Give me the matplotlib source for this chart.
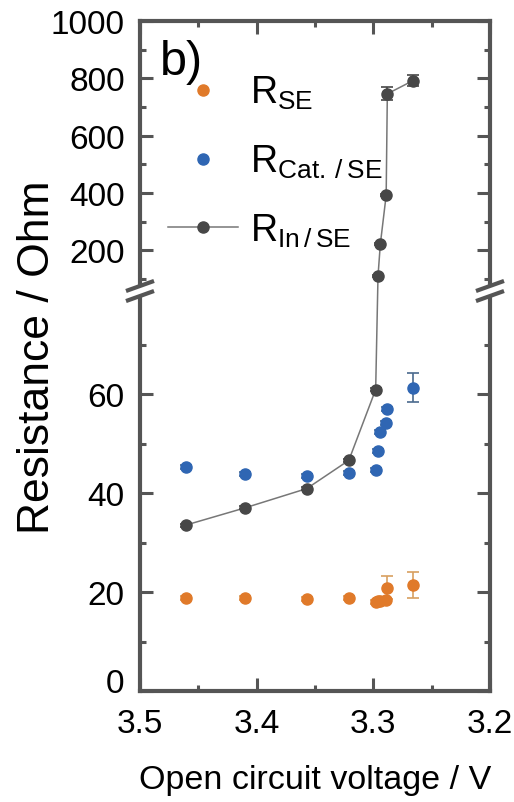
import numpy as np
import matplotlib
matplotlib.use('Agg')
import matplotlib.pyplot as plt
from matplotlib.lines import Line2D
from matplotlib.patches import Polygon
from matplotlib.transforms import ScaledTranslation

plt.rcParams['font.family'] = ['Liberation Sans', 'DejaVu Sans']
plt.rcParams['mathtext.fontset'] = 'custom'
plt.rcParams['mathtext.rm'] = 'Liberation Sans'

# data
voc = [3.461, 3.410, 3.357, 3.321, 3.298, 3.296, 3.294, 3.289, 3.288, 3.266]
r_se = [18.7, 18.7, 18.6, 18.7, 18.0, 18.1, 18.2, 18.3, 20.9, 21.4]
r_se_err = [0.4, 0.4, 0.4, 0.4, 0.4, 0.4, 0.4, 0.4, 2.4, 2.7]
r_cat = [45.3, 43.8, 43.5, 44.0, 44.6, 48.4, 52.3, 54.1, 57.0, 61.3]
r_cat_err = [0.4, 0.4, 0.4, 0.4, 0.4, 0.4, 0.4, 0.4, 0.4, 2.9]
r_in = [33.5, 37.0, 40.9, 46.6, 60.9, 110, 222, 392, 746, 792]
r_in_err = [0.3, 0.3, 0.3, 0.3, 0.3, 3, 3, 3, 23, 20]

labels = [r'R$_{\mathregular{SE}}$', r'R$_{\mathregular{Cat.\,/\,SE}}$',
          r'R$_{\mathregular{In\,/\,SE}}$']
x_major = [3.5, 3.4, 3.3, 3.2]
x_minor = [3.45, 3.35, 3.25]
y_major = [0, 20, 40, 60, 200, 400, 600, 800, 1000]
y_minor = [10, 30, 50, 70, 100, 300, 500, 700, 900]

c_se = '#E07A2A'
c_cat = '#2F66B3'
c_in = '#474747'
c_ax = '#555555'

# broken y axis: linear 0..~81 at the bottom, compressed 100..1000 on top
BRK = 80.8
PX_LO = 4.95
P_BRK = 400.0
P100 = 412.0
S_HI = 0.2867


def fwd(v):
    v = np.asarray(v, float)
    return np.where(v <= BRK, v * PX_LO, P100 + (v - 100) * S_HI)


def inv(p):
    p = np.asarray(p, float)
    hi = 100 + (p - P100) / S_HI
    return np.where(p <= P_BRK, p / PX_LO, np.maximum(hi, BRK))


fig = plt.figure(figsize=(5.14, 8.03), dpi=100)
ax = fig.add_axes([140/514, 1-692/803, 350/514, 670/803])
ax.set_yscale('function', functions=(fwd, inv))

ax.errorbar(voc, r_se, yerr=r_se_err, fmt='o', ms=8, color=c_se,
            ecolor='#D8A060', elinewidth=1.2, capsize=4.5, capthick=1.2, zorder=3)
ax.errorbar(voc, r_cat, yerr=r_cat_err, fmt='o', ms=8, color=c_cat,
            ecolor='#4A6A8E', elinewidth=1.2, capsize=4.5, capthick=1.2, zorder=3)
ax.plot(voc, r_in, '-', color='#777777', lw=1.1, zorder=3)
ax.errorbar(voc, r_in, yerr=r_in_err, fmt='o', ms=8, color=c_in,
            ecolor=c_in, elinewidth=1.2, capsize=4.5, capthick=1.2, zorder=4)

ax.set_xlim(3.5, 3.2)
ax.set_ylim(0, 1000)
ax.set_xticks(x_major)
ax.set_xticks(x_minor, minor=True)
ax.set_yticks(y_major)
ax.set_yticks(y_minor, minor=True)
ax.set_xticklabels(['3.5', '3.4', '3.3', '3.2'])
ax.set_yticklabels([str(v) for v in y_major])

for s in ax.spines.values():
    s.set_linewidth(3)
    s.set_color(c_ax)
ax.tick_params(which='both', direction='in', top=True, right=True,
               color=c_ax, width=2.2, labelsize=24)
ax.tick_params(which='major', length=9.5)
ax.tick_params(which='minor', length=4.5)
ax.tick_params(axis='x', pad=12)
ax.tick_params(axis='y', pad=11)
# the "0" sits a little above its tick in the original
lab0 = ax.yaxis.get_major_ticks()[0].label1
lab0.set_transform(lab0.get_transform() + ScaledTranslation(0, 8/72, fig.dpi_scale_trans))

ax.set_xlabel('Open circuit voltage / V', fontsize=24.5)
ax.xaxis.set_label_coords(0.5, -0.109)
ax.set_ylabel('Resistance / Ohm', fontsize=32)
ax.yaxis.set_label_coords(-0.235, 0.5)

ax.text(0.057, 0.921, 'b)', transform=ax.transAxes, fontsize=35, va='baseline')

# break marks on both spines
yb = 400 / 670.0
dx, dy, sep = 0.04, 0.0075, 0.0075
for xs in (0.0, 1.0):
    gap = Polygon([[xs - 0.012, yb - sep], [xs + 0.012, yb - sep],
                   [xs + 0.012, yb + sep], [xs - 0.012, yb + sep]],
                  closed=True, transform=ax.transAxes, facecolor='white',
                  edgecolor='none', clip_on=False, zorder=5)
    ax.add_patch(gap)
    for off in (-sep, sep):
        ax.plot([xs - dx, xs + dx], [yb + off - dy, yb + off + dy],
                transform=ax.transAxes, color=c_ax, lw=3, clip_on=False,
                solid_capstyle='butt', zorder=6)

handles = [
    Line2D([], [], ls='none', marker='o', ms=8, color=c_se),
    Line2D([], [], ls='none', marker='o', ms=8, color=c_cat),
    Line2D([], [], ls='-', lw=1.1, color='#777777', marker='o', ms=8,
           mfc=c_in, mec=c_in),
]
ax.legend(handles, labels, loc='upper left', bbox_to_anchor=(0.08, 0.921),
          frameon=False, fontsize=27, handlelength=1.87, handletextpad=0.32,
          labelspacing=0.84, borderpad=0, borderaxespad=0)

fig.savefig('out.png', dpi=100)
